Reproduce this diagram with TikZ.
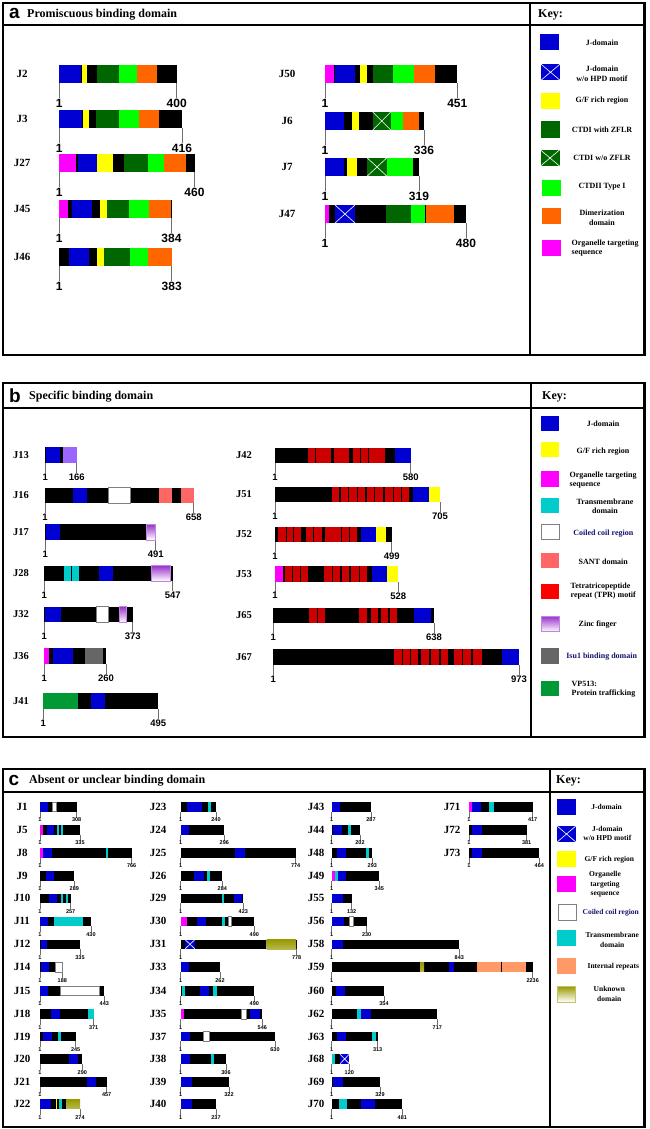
\documentclass[tikz,border=0pt]{standalone}
\usepackage{fontspec}
\setmainfont{Liberation Serif}
\setsansfont{Liberation Sans}
\definecolor{jb}{RGB}{0,0,210}
\definecolor{gf}{RGB}{255,255,0}
\definecolor{dg}{RGB}{0,102,0}
\definecolor{lg}{RGB}{0,255,0}
\definecolor{orn}{RGB}{255,102,0}
\definecolor{mag}{RGB}{255,0,255}
\definecolor{tm}{RGB}{0,204,204}
\definecolor{sant}{RGB}{255,102,102}
\definecolor{tpr}{RGB}{204,0,0}
\definecolor{tprk}{RGB}{255,0,0}
\definecolor{znc}{RGB}{153,51,204}
\definecolor{lav}{RGB}{153,102,255}
\definecolor{isu}{RGB}{102,102,102}
\definecolor{vps}{RGB}{0,153,51}
\definecolor{irp}{RGB}{255,153,102}
\definecolor{unk}{RGB}{153,153,0}
\definecolor{navytxt}{RGB}{20,20,110}
\definecolor{tickc}{RGB}{110,110,110}
\newcommand\prow[6]{%
  \gdef\rowy{#3}%
  \node[lab] (#1) at (#2,#3+\rowh/2) {#1};
  \fill[black] (#4,#3) rectangle (#5,#3+\rowh);
  \draw[tk] (#4,#3+\rowh) -- (#4,#3+\rowh+\tkl) node[num,anchor=north] (#1s) {1};
  \draw[tk] (#5,#3+\rowh) -- (#5,#3+\rowh+\tkl) node[num,anchor=north] (#1e) {#6};
}
\newcommand\sg[3]{\fill[#3] (#1,\rowy) rectangle (#2,\rowy+\rowh);}
\newcommand\sgx[3]{\fill[#3] (#1,\rowy) rectangle (#2,\rowy+\rowh);
  \draw[white,line width=0.6pt] (#1,\rowy) -- (#2,\rowy+\rowh) (#1,\rowy+\rowh) -- (#2,\rowy);}
\newcommand\sgw[2]{\filldraw[fill=white,draw=gray,line width=0.5pt] (#1,\rowy) rectangle (#2,\rowy+\rowh);}
\newcommand\sgz[2]{\shade[top color=znc,bottom color=white] (#1,\rowy) rectangle (#2,\rowy+\rowh);
  \draw[znc!60,line width=0.5pt] (#1,\rowy) rectangle (#2,\rowy+\rowh);}
\newcommand\sgu[2]{\shade[top color=unk,middle color=unk!8,bottom color=unk!70] (#1,\rowy) rectangle (#2,\rowy+\rowh);}
\newcommand\kx[1]{\draw[white,line width=0.6pt] (#1.north west) -- (#1.south east) (#1.south west) -- (#1.north east);}
\tikzset{
  box/.style={draw=black,line width=2.5pt},
  hl/.style={font=\sffamily\bfseries\fontsize{19}{19}\selectfont,inner sep=0pt,anchor=west},
  ttl/.style={font=\bfseries\fontsize{12}{14}\selectfont,inner sep=0pt,anchor=west},
  tk/.style={draw=tickc,line width=0.8pt},
  sw/.style={minimum width=19pt,minimum height=16pt,inner sep=0pt,draw=none},
}
\begin{document}
\begin{tikzpicture}[x=1pt,y=-1pt]
\useasboundingbox (0,0) rectangle (649,1129);
\fill[white] (0,0) rectangle (649,1129);

% ================= Panel a =================
\draw[box] (3,3) rectangle (644.5,355);
\draw[box] (3,25) -- (644.5,25);
\draw[box] (530,3) -- (530,355);
\node[hl] (pa) at (9,13.5) {a};
\node[ttl] (ta) at (27,14.5) {Promiscuous binding domain};
\node[ttl] (keya) at (538,15) {Key:};

\begin{scope}[lab/.style={font=\bfseries\fontsize{11}{12}\selectfont},
  num/.style={font=\sffamily\bfseries\fontsize{12}{12}\selectfont,inner sep=0.5pt}]
\def\rowh{18}\def\tkl{15}
\prow{J2}{22}{65}{59.3}{176.7}{400}
\sg{59.3}{81}{jb}\sg{82}{87.3}{gf}\sg{97.3}{118.7}{dg}\sg{118.7}{136.7}{lg}\sg{136.7}{156.7}{orn}
\prow{J3}{22}{110}{59.3}{182}{416}
\sg{59.3}{81.7}{jb}\sg{83.3}{89.3}{gf}\sg{96}{119.3}{dg}\sg{119.3}{139.3}{lg}\sg{139.3}{159.3}{orn}
\prow{J27}{22}{154}{59.3}{194.5}{460}
\sg{59.3}{76}{mag}\sg{77.7}{96.7}{jb}\sg{97.3}{113.3}{gf}\sg{124}{148.3}{dg}\sg{148.3}{164.3}{lg}\sg{164.3}{186}{orn}
\prow{J45}{22}{200}{59.3}{171.5}{384}
\sg{59.3}{68.3}{mag}\sg{72.3}{92}{jb}\sg{100}{106.7}{gf}\sg{106.7}{129.3}{dg}\sg{129.3}{148.7}{lg}\sg{148.7}{170.7}{orn}
\prow{J46}{22}{248}{59.3}{171.7}{383}
\sg{69}{89.3}{jb}\sg{96.7}{103.7}{gf}\sg{103.7}{130}{dg}\sg{130}{148.3}{lg}\sg{148.3}{171.7}{orn}
\prow{J50}{287}{65}{325}{457.3}{451}
\sg{325}{334.3}{mag}\sg{335}{355}{jb}\sg{360}{366.7}{gf}\sg{372.7}{393.3}{dg}\sg{393.3}{414.3}{lg}\sg{414.3}{435.3}{orn}
\prow{J6}{287}{112}{325}{424}{336}
\sg{325}{344}{jb}\sg{352.3}{359.3}{gf}\sgx{372.7}{390.7}{dg}\sg{390.7}{403.3}{lg}\sg{403.3}{419.3}{orn}
\prow{J7}{287}{158}{325}{419}{319}
\sg{325}{344}{jb}\sg{346.7}{356.7}{gf}\sgx{367.3}{386.7}{dg}\sg{386.7}{413.3}{lg}
\prow{J47}{287}{205}{325}{466}{480}
\sg{325}{329.3}{mag}\sgx{335}{355}{jb}\sg{386}{410.7}{dg}\sg{410.7}{425.3}{lg}\sg{426}{454.3}{orn}
\end{scope}

\begin{scope}[kt/.style={font=\bfseries\fontsize{8}{9.5}\selectfont,align=center,inner sep=0pt}]
\node[sw,fill=jb] (ka1) at (549.5,42.5) {};
\node[kt] (kta1) at (602,42.5) {J-domain};
\node[sw,fill=jb] (ka2) at (550.5,72.2) {}; \kx{ka2}
\node[kt] (kta2) at (602,74) {J-domain\\w/o HPD motif};
\node[sw,fill=gf] (ka3) at (550,101) {};
\node[kt] (kta3) at (602,101) {G/F rich region};
\node[sw,fill=dg] (ka4) at (550,129.5) {};
\node[kt] (kta4) at (602,129.5) {CTDI with ZFLR};
\node[sw,fill=dg] (ka5) at (550,158) {}; \kx{ka5}
\node[kt] (kta5) at (602,158) {CTDI w/o ZFLR};
\node[sw,fill=lg] (ka6) at (551,188) {};
\node[kt] (kta6) at (602,187) {CTDII Type I};
\node[sw,fill=orn] (ka7) at (551,216) {};
\node[kt] (kta7) at (602,218) {Dimerization\\domain};
\node[sw,fill=mag] (ka8) at (551,247.5) {};
\node[kt,align=left,anchor=west] (kta8) at (571.5,248) {Organelle targeting\\sequence};
\end{scope}

% ================= Panel b =================
\draw[box] (3,383) rectangle (644.5,737);
\draw[box] (3,408) -- (644.5,408);
\draw[box] (531,383) -- (531,737);
\node[hl] (pb) at (9,396) {b};
\node[ttl] (tb) at (29,396.7) {Specific binding domain};
\node[ttl] (keyb) at (542,396.7) {Key:};

\begin{scope}[lab/.style={font=\bfseries\fontsize{10.5}{12}\selectfont},
  num/.style={font=\sffamily\bfseries\fontsize{9.5}{10}\selectfont,inner sep=0.5pt}]
\def\rowh{15.5}\def\tkl{10}
\prow{J13}{21}{447.3}{45.3}{76.7}{166}
\sg{46}{60}{jb}\sg{62.7}{76.7}{lav}
\prow{J16}{21}{487.7}{45}{193.7}{658}
\sg{72.7}{87.3}{jb}\sgw{108.3}{130}\sg{159.3}{172.3}{sant}\sg{180.7}{193.7}{sant}
\prow{J17}{21}{524.3}{45.3}{155.7}{491}
\sg{46}{60}{jb}\sgz{146}{155}
\prow{J28}{21}{565.7}{44.3}{172.7}{547}
\sg{64}{71}{tm}\sg{72}{78.7}{tm}\sg{99.3}{113.3}{jb}\sgz{151.7}{170}
\prow{J32}{21}{606.7}{44.3}{132.7}{373}
\sg{45}{60.7}{jb}\sgw{96}{108.3}\sgz{119}{126.7}
\prow{J36}{21}{648.3}{44.3}{106}{260}
\sg{44.3}{49.3}{mag}\sg{53.3}{73.3}{jb}\sg{85}{102.7}{isu}
\prow{J41}{21}{693.3}{43.3}{158.3}{495}
\sg{43.3}{78.3}{vps}\sg{90.7}{105}{jb}

\prow{J42}{244}{447.7}{275}{410.7}{580}
\foreach \a/\b in {307.7/315,316/322.7,323.3/330.7,334/341.7,342.3/349.3,352.7/360,360.7/368.3,369/376.7,377.3/385}{\sg{\a}{\b}{tpr}}
\sg{395}{410.7}{jb}
\prow{J51}{244}{486.7}{275}{440}{705}
\foreach \a/\b in {331.7/339.3,340.7/348.3,349.3/356.7,357.7/365,366.7/374.3,375.3/383.3,385/392.7,394/401,401.7/409}{\sg{\a}{\b}{tpr}}
\sg{413.3}{429.3}{jb}\sg{429.3}{440}{gf}
\prow{J52}{244}{526.7}{275}{391.7}{499}
\foreach \a/\b in {278.3/286,286.7/293.3,294/301,306/313.3,314.3/321.7,325/332.7,333.3/340.7,341.7/349.3,350/357.3}{\sg{\a}{\b}{tpr}}
\sg{360.7}{376}{jb}\sg{376}{386}{gf}
\prow{J53}{244}{566}{275}{398.3}{528}
\sg{275}{282.7}{mag}
\foreach \a/\b in {285/292.3,293.3/300,301/308.3,324/331.7,333.3/340,341.7/349,351/359,360/367.3}{\sg{\a}{\b}{tpr}}
\sg{371.7}{387.3}{jb}\sg{387.3}{398.3}{gf}
\prow{J65}{244}{607.7}{273.3}{434}{638}
\foreach \a/\b in {309/316.7,317.7/325,359.3/367.3,371/378.3,380.7/388.3,390/396.7}{\sg{\a}{\b}{tpr}}
\sg{414}{430.7}{jb}
\prow{J67}{244}{649.3}{273.3}{519}{973}
\foreach \a/\b in {394/401.7,402.7/410,411/418.3,421/429,431/439,440.7/448.3,454/461.7,463.3/470.7,473.3/481.7}{\sg{\a}{\b}{tpr}}
\sg{501.7}{519}{jb}
\end{scope}

\begin{scope}[kt/.style={font=\bfseries\fontsize{8}{9.5}\selectfont,align=center,inner sep=0pt},
  sw/.style={minimum width=18pt,minimum height=15.5pt,inner sep=0pt,draw=none}]
\node[sw,fill=jb] (kb1) at (550,423.3) {};
\node[kt] (ktb1) at (603,424) {J-domain};
\node[sw,fill=gf] (kb2) at (550,449.5) {};
\node[kt] (ktb2) at (603,451.7) {G/F rich region};
\node[sw,fill=mag] (kb3) at (550,479) {};
\node[kt,align=left,anchor=west] (ktb3) at (569.5,480.3) {Organelle targeting\\sequence};
\node[sw,fill=tm] (kb4) at (550,505.5) {};
\node[kt] (ktb4) at (605,506.3) {Transmembrane\\domain};
\node[sw,fill=white,draw=gray,line width=0.7pt] (kb5) at (550,532) {};
\node[kt,text=navytxt] (ktb5) at (603.3,533.3) {Coiled coil region};
\node[sw,fill=sant] (kb6) at (550,560.5) {};
\node[kt] (ktb6) at (603.3,561.7) {SANT domain};
\node[sw,fill=tprk] (kb7) at (550,591.7) {};
\node[kt,align=left,anchor=west] (ktb7) at (570.5,591.3) {Tetratricopeptide\\repeat (TPR) motif};
\node[sw,top color=znc,bottom color=white,draw=znc!60,line width=0.6pt] (kb8) at (550,624) {};
\node[kt] (ktb8) at (597.7,624.3) {Zinc finger};
\node[sw,fill=isu] (kb9) at (550,656) {};
\node[kt,text=navytxt] (ktb9) at (601.7,656.7) {Isu1 binding domain};
\node[sw,fill=vps] (kb10) at (550,688.7) {};
\node[kt,align=left,anchor=west] (ktb10) at (571.5,689) {VP513:\\Protein trafficking};
\end{scope}

% ================= Panel c =================
\draw[box] (3,769) rectangle (644.5,1127);
\draw[box] (3,792) -- (644.5,792);
\draw[box] (550,769) -- (550,1127);
\node[hl] (pc) at (8.5,780.5) {c};
\node[ttl] (tc) at (29,780.5) {Absent or unclear binding domain};
\node[ttl] (keyc) at (556,780.7) {Key:};

\begin{scope}[lab/.style={font=\bfseries\fontsize{11}{12}\selectfont},
  num/.style={font=\sffamily\bfseries\fontsize{5.5}{6}\selectfont,inner sep=0.3pt},
  tk/.style={draw=tickc,line width=0.6pt}]
\def\rowh{9.5}\def\tkl{6}
% column 1
\prow{J1}{22}{802}{40}{76.7}{308}
\sg{40}{48.3}{jb}\sgw{52.7}{56}
\prow{J5}{22}{825}{40}{80}{335}
\sg{40}{42.7}{mag}\sg{46.7}{54}{jb}\sg{56.7}{58.7}{tm}\sg{61}{63.3}{tm}
\prow{J8}{22}{848}{40}{131.7}{766}
\sg{40}{43.3}{mag}\sg{43.3}{52}{jb}\sg{105.7}{108.3}{tm}
\prow{J9}{22}{871}{40}{74.3}{289}
\sg{46}{54}{jb}
\prow{J10}{22}{893.5}{40}{70.7}{257}
\sg{48.7}{56.7}{jb}\sg{61}{63.3}{tm}\sg{66}{68.3}{tm}
\prow{J11}{22}{916.5}{40}{91}{430}
\sg{40}{48.3}{jb}\sg{54}{83.3}{tm}
\prow{J12}{22}{939.5}{40}{80}{335}
\sg{40.7}{47.3}{jb}
\prow{J14}{22}{962.3}{40}{62.3}{188}
\sg{40.7}{49.3}{jb}\sgw{55}{62.3}
\prow{J15}{22}{986}{40}{104.3}{443}
\sg{40}{48.3}{jb}\sgw{60.7}{99.3}
\prow{J18}{22}{1009.3}{40}{93.7}{371}
\sg{51}{60}{jb}\sg{87.7}{93.7}{tm}
\prow{J19}{22}{1031.7}{40}{75.7}{245}
\sg{43.3}{52.3}{jb}\sg{58.3}{61}{tm}
\prow{J20}{22}{1054.2}{40}{82.3}{290}
\sg{69.3}{78.3}{jb}
\prow{J21}{22}{1077}{40}{106.7}{457}
\sg{87.3}{96}{jb}
\prow{J22}{22}{1099.3}{40}{80}{274}
\sg{40}{51}{jb}\sg{56}{57.3}{gf}\sg{59.3}{62}{tm}\sgu{66}{80}
% column 2
\prow{J23}{158}{802}{180.7}{216}{240}
\sg{187.3}{202.3}{jb}\sg{208.3}{210.7}{tm}
\prow{J24}{158}{825}{180.7}{224.3}{296}
\sg{180.7}{189.3}{jb}
\prow{J25}{158}{848}{180.7}{295.7}{774}
\sg{235}{245}{jb}
\prow{J26}{158}{871}{180.7}{222.3}{284}
\sg{194}{204}{jb}\sg{206.7}{210}{tm}
\prow{J29}{158}{893.5}{180.7}{243.3}{423}
\sg{221.7}{224.3}{tm}\sg{234}{242.3}{jb}
\prow{J30}{158}{916.5}{180.7}{254.3}{490}
\sg{180.7}{186.7}{mag}\sg{197.3}{206}{jb}\sg{222.3}{225}{tm}\sgw{228.7}{231.7}
\prow{J31}{158}{939.5}{180.7}{296.7}{778}
\sgx{185}{195}{jb}\sgu{266.7}{296}
\prow{J33}{158}{962.3}{180.7}{220}{262}
\sg{180.7}{189.3}{jb}
\prow{J34}{158}{986}{180.7}{254.3}{490}
\sg{181.7}{185}{tm}\sg{200}{209.3}{jb}\sg{213.3}{216.7}{tm}
\prow{J35}{158}{1009.3}{180.7}{262.3}{546}
\sg{180.7}{184}{mag}\sgw{241.7}{246}\sg{250}{260}{jb}
\prow{J37}{158}{1031.7}{180.7}{275}{630}
\sg{180.7}{190}{jb}\sgw{203.3}{209}
\prow{J38}{158}{1054.2}{180.7}{226}{306}
\sg{180.7}{190}{jb}\sg{210.7}{214.3}{tm}
\prow{J39}{158}{1077}{180.7}{229}{322}
\sg{180.7}{191.7}{jb}
\prow{J40}{158}{1099.3}{180.7}{216}{237}
\sg{180.7}{191.7}{jb}
% column 3
\prow{J43}{316}{802}{331.7}{371}{287}
\sg{331.7}{340}{jb}
\prow{J44}{316}{825}{331.7}{360}{202}
\sg{333.3}{341.7}{jb}\sg{348.3}{351}{tm}
\prow{J48}{316}{848}{331.7}{372.3}{293}
\sg{336.7}{346}{jb}\sg{365.7}{369}{tm}
\prow{J49}{316}{871}{331.7}{379.3}{345}
\sg{331.7}{335}{mag}\sg{335}{337.7}{tm}\sg{337.7}{346}{jb}
\prow{J55}{316}{893.5}{331.7}{351.7}{132}
\sg{331.7}{343.3}{jb}
\prow{J56}{316}{916.5}{331.7}{366.7}{230}
\sg{331.7}{344}{jb}\sgw{349.3}{353.3}
\prow{J58}{316}{939.5}{331.7}{459.3}{843}
\sg{331.7}{343.3}{jb}
\prow{J59}{316}{962.3}{331.7}{532.7}{2236}
\sgu{420}{424}\sg{449.3}{454}{jb}\sg{476.7}{500.7}{irp}\sg{502}{525.7}{irp}
\prow{J60}{316}{986}{331.7}{384}{354}
\sg{335.7}{345}{jb}
\prow{J62}{316}{1009.3}{331.7}{437.3}{717}
\sg{356.7}{361}{tm}\sg{361}{371}{jb}
\prow{J63}{316}{1031.7}{331.7}{377.7}{313}
\sg{336.7}{346}{jb}\sg{371.7}{375.7}{tm}
\prow{J68}{316}{1054.2}{331.7}{349.3}{120}
\sg{331.7}{335}{tm}\sgx{340}{349.3}{jb}
\prow{J69}{316}{1077}{331.7}{380}{329}
\sg{333.3}{343.3}{jb}
\prow{J70}{316}{1099.3}{331.7}{402.3}{481}
\sg{339}{342.7}{tm}\sg{343.3}{346.7}{tm}\sg{360.7}{375}{jb}
% column 4
\prow{J71}{452}{802}{469}{532.7}{417}
\sg{469}{471.7}{mag}\sg{471.7}{481}{jb}\sg{489.3}{494}{tm}
\prow{J72}{452}{825}{469}{526.7}{381}
\sg{471.7}{481.7}{jb}
\prow{J73}{452}{848}{469}{539.3}{464}
\sg{471.7}{481.7}{jb}
\end{scope}

\begin{scope}[kt/.style={font=\bfseries\fontsize{7.5}{9.5}\selectfont,align=center,inner sep=0pt},
  sw/.style={minimum width=18.4pt,minimum height=15.7pt,inner sep=0pt,draw=none}]
\node[sw,fill=jb] (kc1) at (566.5,807) {};
\node[kt] (ktc1) at (606.7,806.7) {J-domain};
\node[sw,fill=jb] (kc2) at (566.5,834) {}; \kx{kc2}
\node[kt] (ktc2) at (607.3,833.5) {J-domain\\w/o HPD motif};
\node[sw,fill=gf] (kc3) at (566.5,859) {};
\node[kt] (ktc3) at (609.3,860) {G/F rich region};
\node[sw,fill=mag] (kc4) at (566.5,884) {};
\node[kt] (ktc4) at (605,884.3) {Organelle\\targeting\\sequence};
\node[sw,fill=white,draw=gray,line width=0.8pt] (kc5) at (567.5,912.3) {};
\node[kt,text=navytxt] (ktc5) at (610.7,912.3) {Coiled coil region};
\node[sw,fill=tm] (kc6) at (566.5,938) {};
\node[kt] (ktc6) at (612.3,940) {Transmembrane\\domain};
\node[sw,fill=irp] (kc7) at (566.5,966) {};
\node[kt] (ktc7) at (613.3,966.7) {Internal repeats};
\node[sw,top color=unk,bottom color=white,draw=unk!60,line width=0.5pt] (kc8) at (566.5,994) {};
\node[kt] (ktc8) at (609.3,994) {Unknown\\domain};
\end{scope}
\end{tikzpicture}
\end{document}
